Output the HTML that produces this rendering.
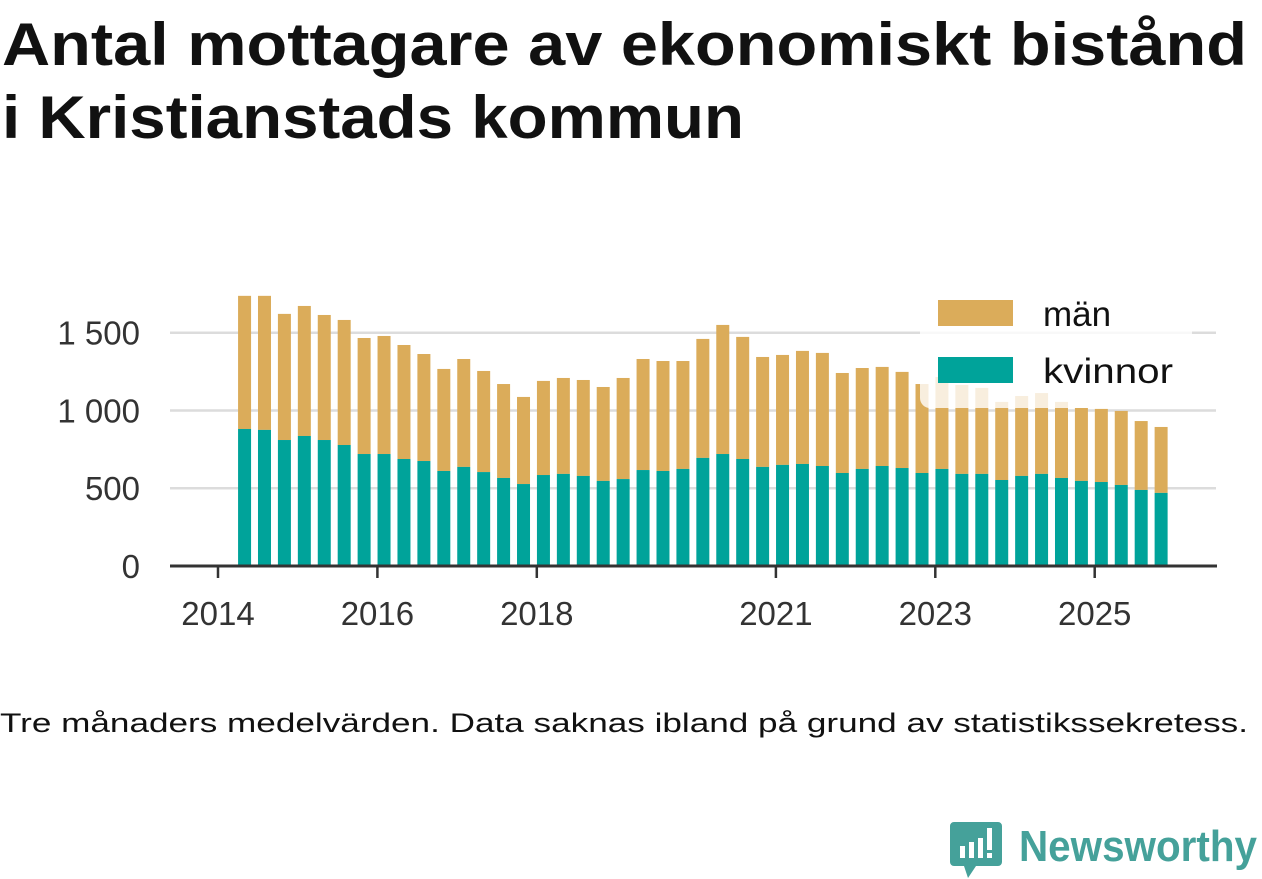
<!DOCTYPE html>
<html><head><meta charset="utf-8"><style>
html,body{margin:0;padding:0;background:#fff;}
svg{display:block;font-family:"Liberation Sans",sans-serif;}
</style></head><body>
<svg id="chart" width="1262" height="879" viewBox="0 0 1262 879">
<text x="2" y="65" font-size="60" font-weight="bold" fill="#111" textLength="1245" lengthAdjust="spacingAndGlyphs">Antal mottagare av ekonomiskt bistånd</text>
<text x="2" y="138" font-size="60" font-weight="bold" fill="#111" textLength="742" lengthAdjust="spacingAndGlyphs">i Kristianstads kommun</text>
<g id="grid"></g>
<g id="bars"></g>
<g id="axes"></g>
<g>
<rect x="920" y="292" width="272" height="116" rx="10" fill="#fff" fill-opacity="0.8"/>
<rect x="938" y="300" width="75" height="26" fill="#dbac5a"/>
<text x="1043" y="326" font-size="35" fill="#111">män</text>
<rect x="938" y="357" width="75" height="26" fill="#00a39a"/>
<text x="1043" y="383" font-size="35" fill="#111" textLength="130" lengthAdjust="spacingAndGlyphs">kvinnor</text>
</g>
<text x="0" y="732" font-size="27" fill="#111" textLength="1248" lengthAdjust="spacingAndGlyphs">Tre månaders medelvärden. Data saknas ibland på grund av statistikssekretess.</text>
<g>
<path d="M954 822 h44 a4 4 0 0 1 4 4 v36 a4 4 0 0 1 -4 4 h-22 l-8 12 l-4 -12 h-10 a4 4 0 0 1 -4 -4 v-36 a4 4 0 0 1 4 -4z" fill="#45a19a"/>
<rect x="960" y="846" width="5" height="12" fill="#fff"/><rect x="969" y="842" width="5" height="16" fill="#fff"/><rect x="978" y="838" width="5" height="20" fill="#fff"/><rect x="987" y="828" width="5" height="22" fill="#fff"/><rect x="987" y="853" width="5" height="5" fill="#fff"/>
<text x="1019" y="861" font-size="44" font-weight="bold" fill="#45a19a" textLength="238" lengthAdjust="spacingAndGlyphs">Newsworthy</text>
</g>
</svg>
<script>
const periods=["2014-05","2014-08","2014-11","2015-02","2015-05","2015-08","2015-11","2016-02","2016-05","2016-08","2016-11","2017-02","2017-05","2017-08","2017-11","2018-02","2018-05","2018-08","2018-11","2019-02","2019-05","2019-08","2019-11","2020-02","2020-05","2020-08","2020-11","2021-02","2021-05","2021-08","2021-11","2022-02","2022-05","2022-08","2022-11","2023-02","2023-05","2023-08","2023-11","2024-02","2024-05","2024-08","2024-11","2025-02","2025-05","2025-08","2025-11"];
const kvinnor=[881,875,810,836,810,778,720,720,688,675,611,637,604,566,527,585,592,579,547,559,617,611,624,695,720,688,637,650,656,643,598,624,643,630,598,624,592,592,553,579,592,566,547,540,521,489,470];
const totals=[1737,1737,1621,1672,1614,1582,1466,1479,1421,1363,1267,1331,1254,1170,1087,1190,1209,1196,1151,1209,1331,1318,1318,1460,1550,1473,1344,1357,1383,1370,1241,1273,1280,1248,1170,1215,1164,1145,1055,1093,1112,1055,1016,1010,997,932,894];
const yTicks=[0,500,1000,1500];
const yTickLabels=["0","500","1 000","1 500"];
const xTicks=[2014,2016,2018,2021,2023,2025];
const NS="http://www.w3.org/2000/svg";
const y=v=>566-v*0.15553;
const x=t=>218+(t-2014)*79.7;
const tOf=p=>{const [a,b]=p.split("-").map(Number);return a+(b-1)/12;};
function mk(tag,attrs,parent){const e=document.createElementNS(NS,tag);for(const k in attrs)e.setAttribute(k,attrs[k]);parent.appendChild(e);return e;}
const grid=document.getElementById("grid"),bars=document.getElementById("bars"),axes=document.getElementById("axes");
yTicks.forEach((v,i)=>{
  if(v>0){const l=mk("line",{x1:170,x2:1216,y1:y(v),y2:y(v),stroke:"#dcdcdc","stroke-width":2.5},grid);
  
  }
  const t=mk("text",{x:140,y:y(v)+12,"font-size":33,fill:"#333","text-anchor":"end"},axes);t.textContent=yTickLabels[i];
  
  
});
periods.forEach((p,i)=>{
  const cx=x(tOf(p));
  const m=mk("rect",{x:cx-6.5,y:y(totals[i]),width:13,height:y(kvinnor[i])-y(totals[i]),fill:"#dbac5a"},bars);
  
  
  const k=mk("rect",{x:cx-6.5,y:y(kvinnor[i]),width:13,height:566-y(kvinnor[i]),fill:"#00a39a"},bars);
  
  
});
const ax=mk("line",{x1:170,x2:1217,y1:566,y2:566,stroke:"#333","stroke-width":3},axes);


xTicks.forEach(yr=>{
  const tk=mk("line",{x1:x(yr),x2:x(yr),y1:566,y2:578,stroke:"#333","stroke-width":2.5},axes);
  
  
  const t=mk("text",{x:x(yr),y:625,"font-size":33,fill:"#333","text-anchor":"middle"},axes);t.textContent=yr;
  
  
});
</script>
</body></html>
